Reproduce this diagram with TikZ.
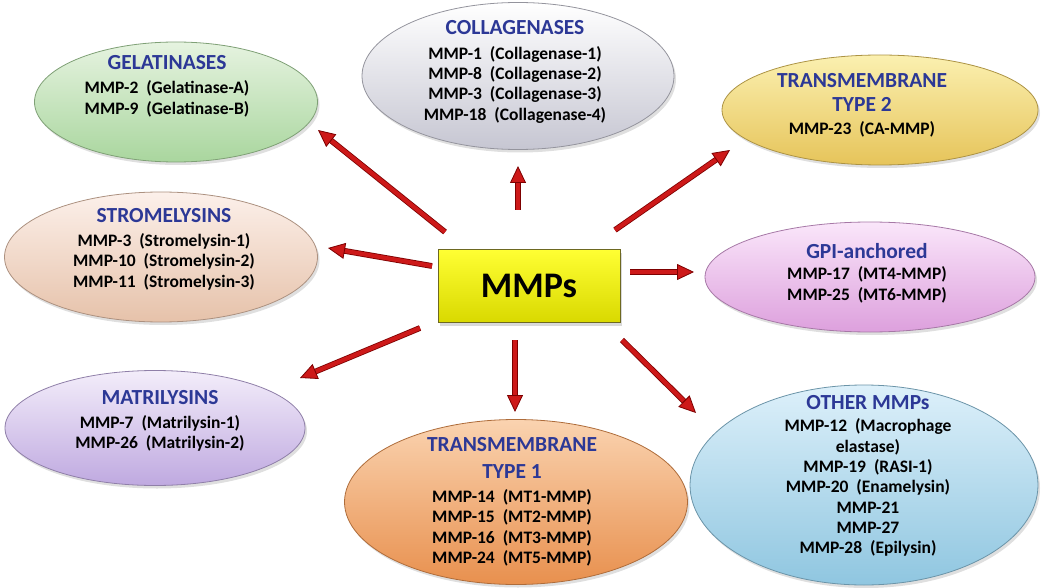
\documentclass[tikz,border=0pt]{standalone}
\usepackage{fontspec}
\setmainfont{Carlito}
\usetikzlibrary{positioning,arrows.meta,calc,shapes.geometric,shadows}
\definecolor{titleblue}{RGB}{44,56,150}
\definecolor{arrowred}{RGB}{205,25,25}
\definecolor{arrowdark}{RGB}{125,0,0}
\definecolor{gelTop}{HTML}{E6F3E0}\definecolor{gelBot}{HTML}{A9D69E}
\definecolor{colTop}{HTML}{FFFFFF}\definecolor{colBot}{HTML}{C6C6D2}
\definecolor{tmbTop}{HTML}{FBF0B0}\definecolor{tmbBot}{HTML}{E6C45A}
\definecolor{strTop}{HTML}{FCF0EA}\definecolor{strBot}{HTML}{E6C2AA}
\definecolor{gpiTop}{HTML}{FAE6FA}\definecolor{gpiBot}{HTML}{DDA0DD}
\definecolor{matTop}{HTML}{F3EDFA}\definecolor{matBot}{HTML}{BFA9E0}
\definecolor{tmaTop}{HTML}{FAD3B0}\definecolor{tmaBot}{HTML}{E8904E}
\definecolor{othTop}{HTML}{DDF0FA}\definecolor{othBot}{HTML}{8FC6E0}
\newcommand{\grouptitle}[1]{{\fontsize{21.5}{24}\selectfont\color{titleblue}#1}}

\begin{document}
\begin{tikzpicture}[
    x=1pt, y=-1pt,
    group/.style 2 args={ellipse, draw=#2!75!black, line width=0.8pt, inner sep=0pt,
      top color=#1, bottom color=#2,
      drop shadow={opacity=0.25, shadow xshift=2pt, shadow yshift=-3pt}},
    members/.style={align=center, font=\bfseries\fontsize{17.5}{20.3}\selectfont, inner sep=0pt},
    >={Triangle[length=17pt, width=16pt, color=arrowdark, fill=arrowred, line width=0.8pt]},
    link/.style={->, arrowred, line width=4.2pt,
      preaction={draw=arrowdark, line width=5.8pt, shorten >=13pt, arrows=-}}
  ]
  \useasboundingbox (0,0) rectangle (1041,588);

  % groups
  \node[group={gelTop}{gelBot}, minimum width=283pt, minimum height=120pt] (gel) at (176,102) {};
  \node[group={colTop}{colBot}, minimum width=312pt, minimum height=147pt] (col) at (518,76) {};
  \node[group={tmbTop}{tmbBot}, minimum width=316pt, minimum height=110pt] (tmb) at (880,110) {};
  \node[group={strTop}{strBot}, minimum width=313pt, minimum height=130pt] (str) at (161,257) {};
  \node[group={gpiTop}{gpiBot}, minimum width=330pt, minimum height=110pt] (gpi) at (870,277) {};
  \node[group={matTop}{matBot}, minimum width=300pt, minimum height=115pt] (mat) at (155,428) {};
  \node[group={tmaTop}{tmaBot}, minimum width=343pt, minimum height=165pt] (tma) at (516,502) {};
  \node[group={othTop}{othBot}, minimum width=348pt, minimum height=200pt] (oth) at (864,485) {};

  \node[members] (gel-txt) at (167,86) {\grouptitle{GELATINASES}\\[4pt] MMP-2 ~(Gelatinase-A)\\ MMP-9 ~(Gelatinase-B)};
  \node[members] (col-txt) at (515,72) {\grouptitle{COLLAGENASES}\\[4pt] MMP-1 ~(Collagenase-1)\\ MMP-8 ~(Collagenase-2)\\ MMP-3 ~(Collagenase-3)\\ MMP-18 ~(Collagenase-4)};
  \node[members] (tmb-txt) at (862,105) {\grouptitle{TRANSMEMBRANE}\\[4pt] \grouptitle{TYPE 2}\\[2pt] MMP-23 ~(CA-MMP)};
  \node[members] (str-txt) at (164,249) {\grouptitle{STROMELYSINS}\\[4pt] MMP-3 ~(Stromelysin-1)\\ MMP-10 ~(Stromelysin-2)\\ MMP-11 ~(Stromelysin-3)};
  \node[members] (gpi-txt) at (867,273) {\grouptitle{GPI-anchored}\\[1pt] MMP-17 ~(MT4-MMP)\\ MMP-25 ~(MT6-MMP)};
  \node[members] (mat-txt) at (160,421) {\grouptitle{MATRILYSINS}\\[4pt] MMP-7 ~(Matrilysin-1)\\ MMP-26 ~(Matrilysin-2)};
  \node[members] (tma-txt) at (512,502) {\grouptitle{TRANSMEMBRANE}\\[6pt] \grouptitle{TYPE 1}\\[4pt] MMP-14 ~(MT1-MMP)\\ MMP-15 ~(MT2-MMP)\\ MMP-16 ~(MT3-MMP)\\ MMP-24 ~(MT5-MMP)};
  \node[members] (oth-txt) at (868,476) {\grouptitle{OTHER MMPs}\\[2pt] MMP-12 ~(Macrophage\\ elastase)\\ MMP-19 ~(RASI-1)\\ MMP-20 ~(Enamelysin)\\ MMP-21\\ MMP-27\\ MMP-28 ~(Epilysin)};

  % centre
  \node[draw=olive!70!black, line width=0.8pt, top color=yellow!80!white, bottom color=yellow!85!black,
    minimum width=182pt, minimum height=73pt, font=\bfseries\fontsize{36}{40}\selectfont,
    drop shadow={opacity=0.3, shadow xshift=2pt, shadow yshift=-3pt}] (mmps) at (529,286) {MMPs};

  % arrows
  \coordinate (to-gel-s) at (445,232); \coordinate (to-gel-e) at (318,130);
  \coordinate (to-col-s) at (518,210); \coordinate (to-col-e) at (518,166);
  \coordinate (to-tmb-s) at (615,230); \coordinate (to-tmb-e) at (730,150);
  \coordinate (to-str-s) at (432,266); \coordinate (to-str-e) at (328,248);
  \coordinate (to-gpi-s) at (630,272); \coordinate (to-gpi-e) at (694,272);
  \coordinate (to-mat-s) at (420,328); \coordinate (to-mat-e) at (300,378);
  \coordinate (to-tma-s) at (515,340); \coordinate (to-tma-e) at (515,412);
  \coordinate (to-oth-s) at (622,340); \coordinate (to-oth-e) at (696,413);
  \foreach \g in {gel,col,tmb,str,gpi,mat,tma,oth}
    \draw[link] (to-\g-s) -- (to-\g-e);
\end{tikzpicture}
\end{document}
